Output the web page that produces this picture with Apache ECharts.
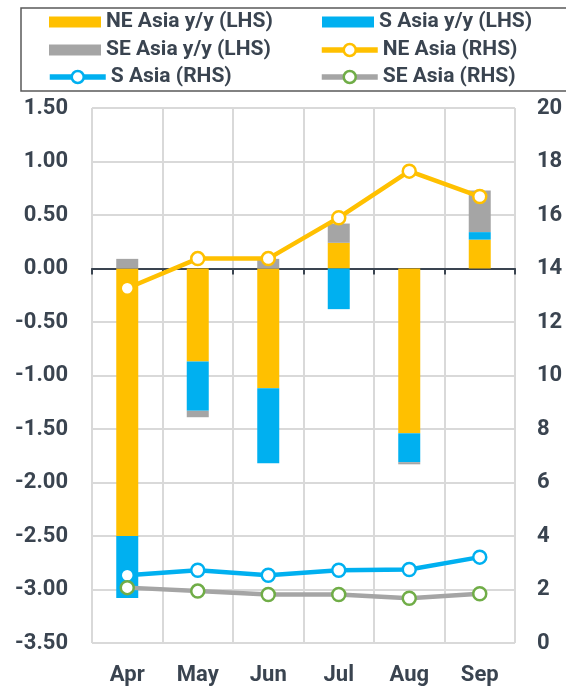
<!DOCTYPE html>
<html>
<head>
<meta charset="utf-8">
<script src="https://cdn.jsdelivr.net/npm/echarts@6/dist/echarts.min.js"></script>
<style>
  html, body { margin: 0; padding: 0; background: #fff; }
  #chart { width: 566px; height: 688px; }
</style>
</head>
<body>
<div id="chart"></div>
<script>
var months = ['Apr', 'May', 'Jun', 'Jul', 'Aug', 'Sep'];

// y/y changes, left axis
var neYoy = [-2.50, -0.87, -1.12, 0.24, -1.54, 0.27];
var sYoy  = [-0.58, -0.46, -0.70, -0.38, -0.27, 0.07];
var seYoy = [0.09, -0.06, 0.09, 0.18, -0.02, 0.39];

// levels, right axis
var neLvl = [13.26, 14.37, 14.37, 15.90, 17.64, 16.69];
var sLvl  = [2.53, 2.72, 2.53, 2.72, 2.75, 3.21];
var seLvl = [2.07, 1.94, 1.81, 1.81, 1.67, 1.84];

var yellow = '#FFC000', blue = '#00B0F0', grey = '#A5A5A5', green = '#70AD47';
var txt = '#3A4450';
var font = 'Roboto';

var myChart = echarts.init(document.getElementById('chart'));

var legendText = { color: txt, fontFamily: font, fontWeight: 'bold', fontSize: 21, lineHeight: 24 };

function barLegend(name, left, top) {
    return {
        data: [name], left: left, top: top, orient: 'horizontal',
        itemWidth: 52, itemHeight: 11, icon: 'rect', padding: 0, itemGap: 0,
        selectedMode: false,
        textStyle: legendText
    };
}
function lineLegend(name, left, top) {
    return {
        data: [name], left: left, top: top, orient: 'horizontal',
        itemWidth: 56, itemHeight: 15, padding: 0, itemGap: 0,
        selectedMode: false,
        lineStyle: { width: 5.5 },
        itemStyle: { borderWidth: 2.5 },
        textStyle: legendText
    };
}

function lineSeries(name, data, color, border) {
    return {
        name: name, type: 'line', data: data, xAxisIndex: 0, yAxisIndex: 1,
        symbol: 'circle', symbolSize: 13, z: 5,
        lineStyle: { color: color, width: 4.5 },
        itemStyle: { color: '#fff', borderColor: border, borderWidth: 2.5 }
    };
}

var option = {
    animation: false,
    graphic: [{
        type: 'rect', shape: { x: 21, y: 8, width: 560, height: 83 },
        style: { fill: 'none', stroke: '#595959', lineWidth: 1.5 }
    }],
    legend: [
        barLegend('NE Asia y/y (LHS)', 49, 10),
        barLegend('S Asia y/y (LHS)', 322, 10),
        barLegend('SE Asia y/y (LHS)', 49, 38),
        lineLegend('NE Asia (RHS)', 319, 38),
        lineLegend('S Asia (RHS)', 47, 65),
        lineLegend('SE Asia (RHS)', 319, 65)
    ],
    grid: { left: 92, right: 51, top: 108, bottom: 45 },
    xAxis: [{
        type: 'category', data: months, position: 'bottom',
        axisLine: { show: false, onZero: false },
        axisTick: { show: false },
        axisLabel: { color: txt, fontFamily: font, fontWeight: 'bold', fontSize: 22, margin: 21 },
        splitLine: { show: true, lineStyle: { color: '#D9D9D9', width: 2 } }
    }, {
        type: 'category', data: months, position: 'bottom',
        axisLine: { show: true, onZero: true, onZeroAxisIndex: 0, lineStyle: { color: txt, width: 2 } },
        axisTick: { show: true, length: 6, lineStyle: { color: txt, width: 2 } },
        axisLabel: { show: false },
        splitLine: { show: false }
    }],
    yAxis: [{
        type: 'value', min: -3.5, max: 1.5, interval: 0.5,
        axisLine: { show: false },
        axisTick: { show: false },
        axisLabel: {
            color: txt, fontFamily: font, fontWeight: 'bold', fontSize: 22, margin: 24,
            formatter: function (v) { return v.toFixed(2); }
        },
        splitLine: { show: true, lineStyle: { color: '#D9D9D9', width: 2 } }
    }, {
        type: 'value', min: 0, max: 20, interval: 2, position: 'right',
        axisLine: { show: false },
        axisTick: { show: false },
        axisLabel: { color: txt, fontFamily: font, fontWeight: 'bold', fontSize: 22, margin: 22 },
        splitLine: { show: false }
    }],
    series: [
        { name: 'NE Asia y/y (LHS)', type: 'bar', stack: 'yoy', data: neYoy, barWidth: 22,
          xAxisIndex: 0, yAxisIndex: 0, itemStyle: { color: yellow } },
        { name: 'S Asia y/y (LHS)', type: 'bar', stack: 'yoy', data: sYoy, barWidth: 22,
          xAxisIndex: 0, yAxisIndex: 0, itemStyle: { color: blue } },
        { name: 'SE Asia y/y (LHS)', type: 'bar', stack: 'yoy', data: seYoy, barWidth: 22,
          xAxisIndex: 0, yAxisIndex: 0, itemStyle: { color: grey } },
        lineSeries('NE Asia (RHS)', neLvl, yellow, yellow),
        lineSeries('S Asia (RHS)', sLvl, blue, blue),
        lineSeries('SE Asia (RHS)', seLvl, grey, green)
    ]
};

myChart.setOption(option);
</script>
</body>
</html>
